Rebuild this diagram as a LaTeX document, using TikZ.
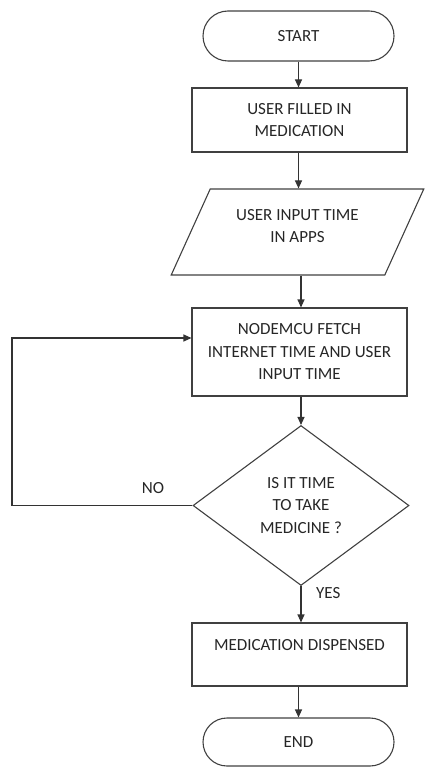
\documentclass[tikz,border=0pt]{standalone}
\usepackage{fontspec}
\setmainfont{Carlito}
\usetikzlibrary{shapes.geometric,shapes.misc,arrows.meta}

\tikzset{
  base/.style={draw=black!75, line width=1.1pt, text=black!85, align=center,
               font=\fontsize{17pt}{22.5pt}\selectfont, inner sep=0pt},
  terminal/.style={base, rounded rectangle, minimum width=191pt, minimum height=50pt},
  process/.style={base, rectangle, minimum width=215pt},
  io/.style={base, trapezium, trapezium stretches=true,
             trapezium left angle=59, trapezium right angle=121,
             minimum width=253pt, minimum height=86pt},
  decision/.style={base, diamond, minimum width=216pt, minimum height=160pt},
  flow/.style={draw=black!80, line width=1.1pt, -{Triangle[length=8pt,width=7pt]}},
  lbl/.style={text=black!85, font=\fontsize{17pt}{22.5pt}\selectfont, inner sep=0pt}
}

\begin{document}
\begin{tikzpicture}[x=1pt,y=-1pt]
  \useasboundingbox (0,0) rectangle (424,767);

  \node[terminal] (start) at (298.5,36) {START};
  \node[process, minimum height=64pt] (fill) at (299.5,120) {USER FILLED IN\\MEDICATION};
  \node[io, text depth=12pt] (input) at (297.5,232) {USER INPUT TIME\\IN APPS};
  \node[process, minimum height=88pt] (fetch) at (299.5,352) {NODEMCU FETCH\\INTERNET TIME AND USER\\INPUT TIME};
  \node[decision] (check) at (301,505.5) {IS IT TIME\\TO TAKE\\MEDICINE ?};
  \node[process, minimum height=63pt, text depth=19pt] (dispense) at (299.5,654.5) {MEDICATION DISPENSED};
  \node[terminal, minimum height=48pt] (stop) at (298.5,742) {END};

  \coordinate (loop) at (12,338);

  \draw[flow] (start.south) -- (start.south |- fill.north);
  \draw[flow] (fill.south -| start.south) -- (start.south |- input.north);
  \draw[flow] (input.south -| check.north) -- (check.north |- fetch.north);
  \draw[flow] (fetch.south -| check.north) -- (check.north);
  \draw[flow] (check.south) -- (check.south |- dispense.north);
  \draw[flow] (dispense.south -| start.south) -- (start.south |- stop.north);

  \draw[flow] (check.west) -- (check.west -| loop) -- (loop) -- (loop -| fetch.west);

  \node[lbl] (no) at (153,488) {NO};
  \node[lbl, anchor=west] (yes) at (316,593) {YES};
\end{tikzpicture}
\end{document}
